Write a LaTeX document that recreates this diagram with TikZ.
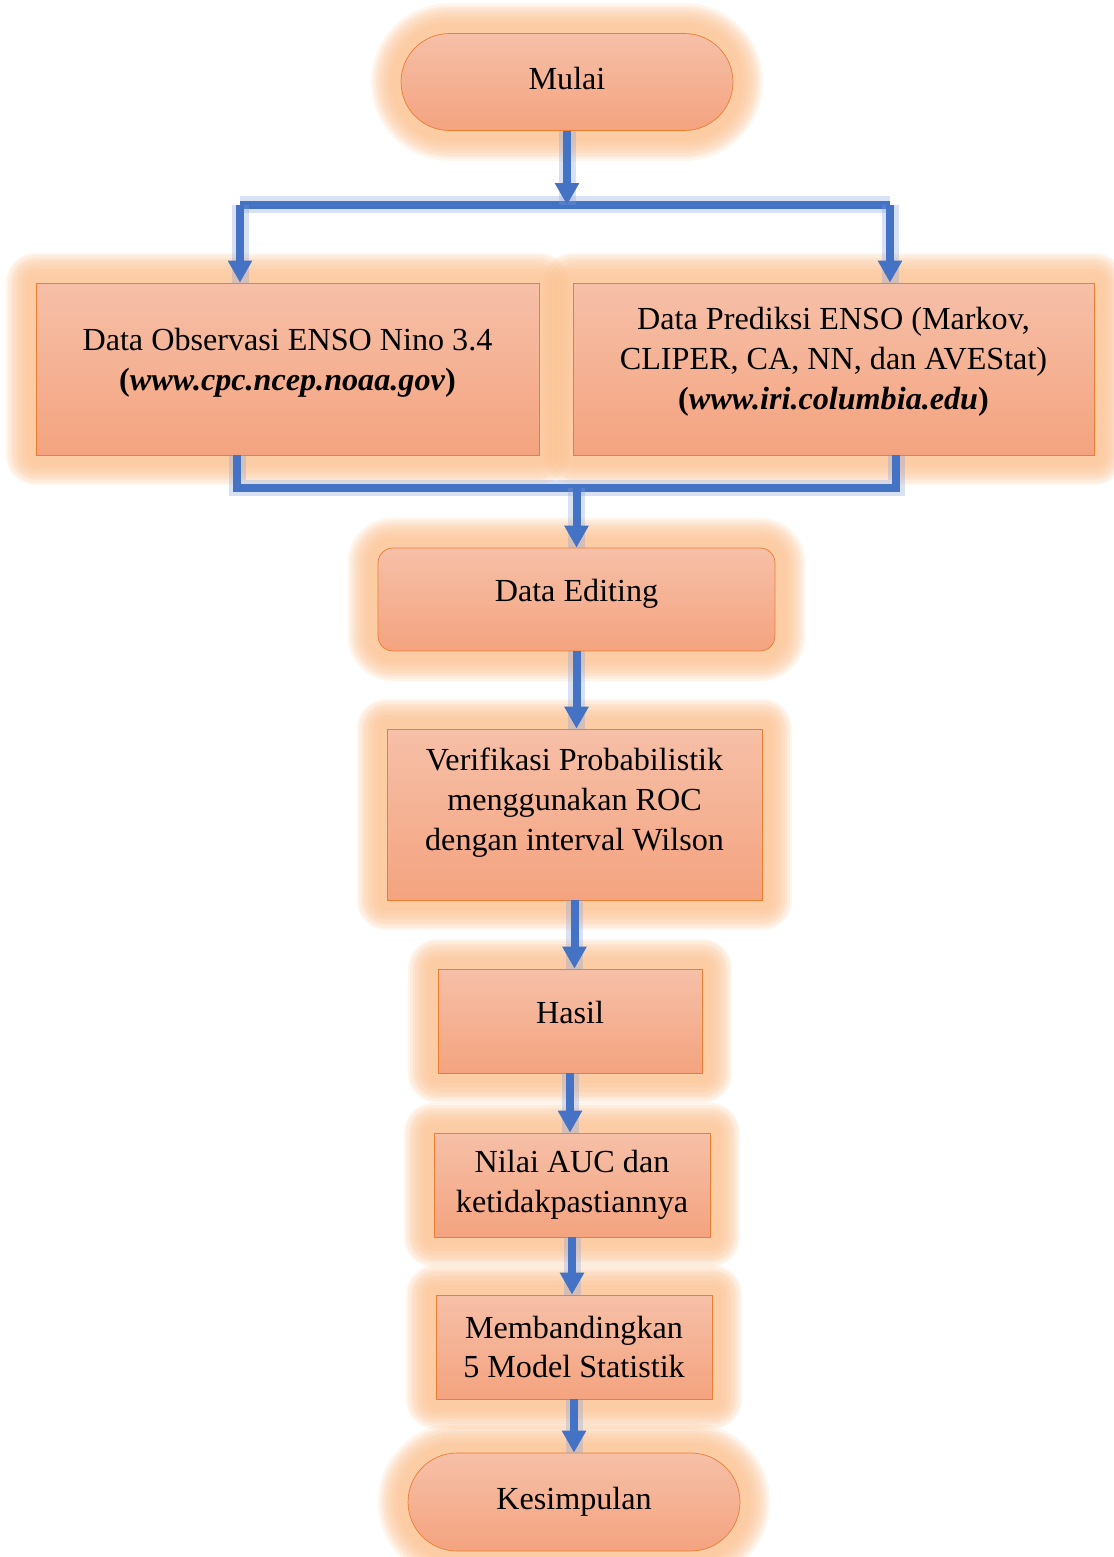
\documentclass[tikz,border=0pt]{standalone}
\usepackage{fontspec}
\setmainfont{Liberation Serif}
\definecolor{boxtop}{HTML}{F6C0A8}
\definecolor{boxbottom}{HTML}{F4A37F}
\definecolor{boxline}{HTML}{ED7D31}
\definecolor{gloworange}{HTML}{FBBE8C}
\definecolor{flowblue}{HTML}{4472C4}
\definecolor{glowblue}{HTML}{7E9FDC}
\usetikzlibrary{shapes.misc,arrows.meta,backgrounds,calc}

\begin{document}
\begin{tikzpicture}[
    x=0.02cm, y=-0.02cm,
    box/.style={rectangle, draw=boxline, thin, top color=boxtop, bottom color=boxbottom,
                inner sep=0pt, align=center, font=\fontsize{18.3}{22.7}\selectfont},
    term/.style={box, rounded rectangle},
    soft/.style={box, rounded corners=0.3cm},
    lift/.style={execute at end node={\rule[-#1]{0pt}{0pt}}},
    halo/.style={draw=gloworange, opacity=0.16, line join=round},
    flow/.style={draw=flowblue, line width=0.16cm, -{Triangle[width=0.46cm,length=0.44cm]},
                preaction={draw=glowblue, line width=0.34cm, opacity=0.3, -}},
    pipe/.style={draw=flowblue, line width=0.16cm, line join=miter,
                preaction={draw=glowblue, line width=0.34cm, opacity=0.3}}
]
    \useasboundingbox (0,0) rectangle (1113,1557);

    \node[term, lift=4.6pt, minimum width=6.64cm, minimum height=1.94cm] (mulai) at (567,82) {Mulai};
    \node[box, lift=10.8pt, minimum width=10.06cm, minimum height=3.44cm] (obs) at (287.5,369)
        {Data Observasi ENSO Nino 3.4\\\textbf{(\textit{www.cpc.ncep.noaa.gov})}};
    \node[box, lift=12pt, minimum width=10.42cm, minimum height=3.44cm] (pred) at (833.5,369)
        {Data Prediksi ENSO (Markov,\\CLIPER, CA, NN, dan AVEStat)\\\textbf{(\textit{www.iri.columbia.edu})}};
    \node[soft, lift=10.8pt, minimum width=7.94cm, minimum height=2.06cm] (edit) at (576.5,599.5) {Data Editing};
    \node[box, lift=17.7pt, minimum width=7.5cm, minimum height=3.42cm] (verif) at (574.5,814.5)
        {Verifikasi Probabilistik\\menggunakan ROC\\dengan interval Wilson};
    \node[box, lift=10.2pt, minimum width=5.28cm, minimum height=2.08cm] (hasil) at (570,1021) {Hasil};
    \node[box, minimum width=5.52cm, minimum height=2.08cm] (nilai) at (572,1185)
        {Nilai AUC dan\\ketidakpastiannya};
    \node[box, minimum width=5.52cm, minimum height=2.08cm] (banding) at (574,1347)
        {Membandingkan\\5 Model Statistik};
    \node[term, minimum width=6.64cm, minimum height=1.96cm] (simpul) at (574,1502) {Kesimpulan};

    \begin{scope}[on background layer]
        \foreach \n/\r in {obs/0pt, pred/0pt, edit/0.3cm, verif/0pt,
                           hasil/0pt, nilai/0pt, banding/0pt}
            \foreach \w in {0.4,0.5,...,1.3}
                \draw[halo, line width=\w cm, rounded corners=\r]
                    (\n.south west) rectangle (\n.north east);
        \foreach \n in {mulai, simpul}
            \foreach \w in {0.4,0.5,...,1.3}
                \draw[halo, line cap=round, line width=\w cm+1.95cm]
                    ($(\n.west)+(49,0)$) -- ($(\n.east)-(49,0)$);
    \end{scope}

    \coordinate (splitL) at (240,205);
    \coordinate (splitR) at (890,205);
    \coordinate (joinL) at (237,488);
    \coordinate (joinR) at (896,488);

    \draw[pipe] (splitL) -- (splitR);
    \draw[flow] (mulai.south) -- (mulai.south |- splitL);
    \draw[flow] (splitL) -- (splitL |- obs.north);
    \draw[flow] (splitR) -- (splitR |- pred.north);

    \draw[pipe] (joinL |- obs.south) -- (joinL) -- (joinR) -- (joinR |- pred.south);
    \draw[flow] (edit.north |- joinL) -- (edit.north);

    \draw[flow] (edit.south) -- (edit.south |- verif.north);
    \draw[flow] (verif.south) -- (verif.south |- hasil.north);
    \draw[flow] (hasil.south) -- (hasil.south |- nilai.north);
    \draw[flow] (nilai.south) -- (nilai.south |- banding.north);
    \draw[flow] (banding.south) -- (banding.south |- simpul.north);
\end{tikzpicture}
\end{document}
